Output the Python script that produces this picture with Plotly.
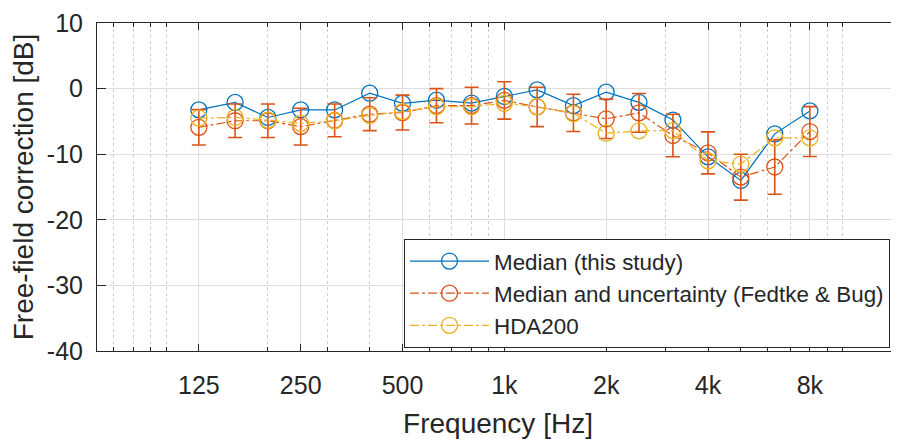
import plotly.graph_objects as go
import numpy as np

freqs = [125, 160, 200, 250, 315, 400, 500, 630, 800, 1000, 1250, 1600, 2000, 2500, 3150, 4000, 5000, 6300, 8000]
median_study = [-3.25, -2.1, -4.4, -3.25, -3.25, -0.7, -2.25, -1.75, -2.2, -1.2, -0.2, -2.6, -0.55, -2.1, -4.8, -10.4, -14.0, -6.9, -3.4]
median_fb = [-5.9, -4.9, -4.9, -5.8, -4.85, -3.9, -3.65, -2.6, -2.6, -1.8, -2.8, -3.7, -4.6, -3.7, -7.15, -9.8, -13.5, -11.95, -6.55]
uncert_fb = [2.7, 2.55, 2.55, 2.8, 2.5, 2.5, 2.65, 2.6, 2.8, 2.85, 3.0, 2.85, 3.0, 2.95, 3.25, 3.2, 3.5, 4.15, 3.8]
hda200 = [-4.5, -4.4, -4.8, -5.3, -4.9, -4.1, -3.5, -2.75, -2.75, -2.25, -2.75, -3.8, -6.8, -6.45, -6.4, -11.0, -11.5, -7.5, -7.5]

major_ticks = [125, 250, 500, 1000, 2000, 4000, 8000]
major_labels = ["125", "250", "500", "1k", "2k", "4k", "8k"]
minor_ticks = [70, 80, 90, 100, 200, 300, 400, 600, 700, 800, 900, 3000, 5000, 6000, 7000, 9000, 10000]
y_ticks = [-40, -30, -20, -10, 0, 10]
y_labels = ["-40", "-30", "-20", "-10", "0", "10"]

BLUE = "#0072BD"
RED = "#D95319"
YEL = "#EDB120"
AX = "#262626"
FONT = "Liberation Sans, Arial, sans-serif"
TICK_SIZE = 25
TITLE_SIZE = 28
LEGEND_SIZE = 22.4

# page body has an 8px margin; figure sized so it ends at the window edge
W, H = 891, 431
L, T, B, R = 89, 15, 88, 0
plot_w = W - L - R
px_per_decade = 338.3

fig = go.Figure()
fig.add_trace(go.Scatter(
    x=freqs, y=median_study, mode="lines+markers", name="Median (this study)",
    line=dict(color=BLUE, width=1.2),
    marker=dict(symbol="circle-open", size=16, color=BLUE, line=dict(width=1.3)),
))
fig.add_trace(go.Scatter(
    x=freqs, y=median_fb, mode="lines+markers", name="Median and uncertainty (Fedtke & Bug)",
    line=dict(color=RED, width=1.2, dash="dashdot"),
    marker=dict(symbol="circle-open", size=16, color=RED, line=dict(width=1.3)),
    error_y=dict(type="data", array=uncert_fb, visible=True, color=RED, thickness=1.6, width=7),
))
fig.add_trace(go.Scatter(
    x=freqs, y=hda200, mode="lines+markers", name="HDA200",
    line=dict(color=YEL, width=1.2, dash="dashdot"),
    marker=dict(symbol="circle-open", size=16, color=YEL, line=dict(width=1.3)),
))

fig.update_layout(
    width=W, height=H,
    margin=dict(l=L, r=R, t=T, b=B, autoexpand=False),
    paper_bgcolor="white", plot_bgcolor="white",
    font=dict(family=FONT, size=TICK_SIZE, color=AX),
    showlegend=True,
    legend=dict(
        x=(396 - L) / plot_w, y=(H - B - 231) / (H - B - T), xanchor="left", yanchor="top",
        bgcolor="white", bordercolor=AX, borderwidth=1,
        font=dict(family=FONT, size=LEGEND_SIZE, color=AX),
        itemwidth=79, tracegroupgap=0,
    ),
    xaxis=dict(
        type="log", range=[np.log10(62.5), np.log10(62.5) + plot_w / px_per_decade],
        tickmode="array", tickvals=major_ticks, ticktext=major_labels,
        ticks="inside", ticklen=7, tickwidth=1, tickcolor=AX,
        showline=True, linecolor=AX, linewidth=1, mirror="ticks",
        showgrid=True, gridcolor="#dedede", gridwidth=1,
        minor=dict(tickmode="array", tickvals=minor_ticks, ticks="inside", ticklen=4,
                   tickcolor=AX, showgrid=True, gridcolor="#cccccc", griddash="dot", gridwidth=1),
        tickfont=dict(size=TICK_SIZE, color=AX),
        ticklabelstandoff=12,
        title=dict(text="Frequency [Hz]", font=dict(size=TITLE_SIZE, color=AX), standoff=16),
        zeroline=False, automargin=False,
    ),
    yaxis=dict(
        range=[-40, 10], tickmode="array", tickvals=y_ticks, ticktext=y_labels,
        ticks="inside", ticklen=9, tickwidth=1, tickcolor=AX,
        showline=True, linecolor=AX, linewidth=1, mirror=False,
        showgrid=True, gridcolor="#dedede", gridwidth=1,
        tickfont=dict(size=TICK_SIZE, color=AX),
        ticklabelstandoff=8,
        title=dict(text="Free-field correction [dB]", font=dict(size=TITLE_SIZE, color=AX), standoff=5),
        zeroline=False, automargin=False,
    ),
)

fig.write_html("out.html")
